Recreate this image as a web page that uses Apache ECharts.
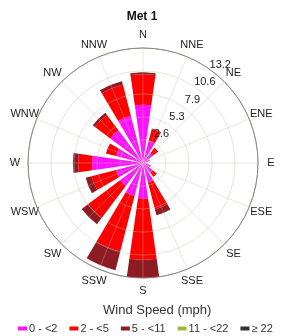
<!DOCTYPE html>
<html><head><meta charset="utf-8">
<script src="https://cdn.jsdelivr.net/npm/echarts@6/dist/echarts.min.js"></script>
<style>html,body{margin:0;padding:0;background:#fff}#c{width:284px;height:336px}</style>
</head><body><div id="c"></div>
<script>
var directions = ['N','NNE','NE','ENE','E','ESE','SE','SSE','S','SSW','SW','WSW','W','WNW','NW','NNW'];
var bins = ['0 - <2','2 - <5','5 - <11','11 - <22','\u2265 22'];
var speed0to2   = [6.7, 2.6, 1.4, 0.7, 0.5, 0.8, 1.4, 2.3, 4.1, 3.9, 3.3, 3.2, 5.85, 3.2, 4.7, 5.6];
var speed2to5   = [3.5, 1.4, 0.8, 0.1, 0.0, 0.1, 0.6, 3.2, 7.0, 6.6, 4.6, 2.9, 1.6, 1.2, 2.2, 3.7];
var speed5to11  = [0.2, 0.1, 0.0, 0.0, 0.0, 0.0, 0.0, 0.7, 2.1, 2.2, 0.9, 0.7, 0.6, 0.0, 0.3, 0.4];
var speed11to22 = [0,0,0,0,0,0,0,0,0,0,0,0,0,0,0,0];
var speed22up   = [0,0,0,0,0,0,0,0,0,0,0,0,0,0,0,0];
var radialTickValues = [2.64, 5.28, 7.92, 10.56, 13.2];
var radialTicks = ['2.6','5.3','7.9','10.6','13.2'];
var colors = ['#ff10ff','#ff0000','#8e1b24','#9fb83a','#333333'];
var seriesData = [speed0to2, speed2to5, speed5to11, speed11to22, speed22up];

var FONT = 'Liberation Sans, Arial, sans-serif';
var CX = 143, CY = 163, R = 115, LABEL_R = 128, FS = 11;
var ctx = document.createElement('canvas').getContext('2d');
ctx.font = FS + 'px ' + FONT;

// place direction labels so that their centres sit on a circle (like the reference)
var dirCats = directions.map(function(d, i){
  var th = i * 22.5 * Math.PI / 180, s = Math.sin(th), c = Math.cos(th);
  var w = ctx.measureText(d).width, h = FS;
  var ax = R * s, ay = -R * c, dx = LABEL_R * s, dy = -LABEL_R * c;
  var pad = [0,0,0,0];
  if (Math.abs(s) >= 0.3) {
    if (s > 0) pad[3] = dx - ax - w/2; else pad[1] = ax - dx - w/2;
  }
  if (Math.abs(c) >= 0.3) {
    if (c > 0) pad[2] = ay - dy - h/2; else pad[0] = dy - ay - h/2;
  }
  return {value:d, textStyle:{padding:pad}};
});

var chart = echarts.init(document.getElementById('c'), null, {renderer:'canvas'});
var option = {
  animation:false,
  color: colors,
  textStyle:{fontFamily:FONT},
  title:[
    {text:'Met 1', left:'center', top:6, textStyle:{fontSize:12, fontWeight:'bold', color:'#111'}},
    {text:'Wind Speed (mph)', left:98, top:299, textStyle:{fontSize:13, fontWeight:'normal', color:'#333'}}
  ],
  legend:{
    data: bins, left:13, top:318, itemWidth:9, itemHeight:4, itemGap:12, icon:'rect',
    textStyle:{fontSize:11, color:'#333', padding:[0,0,0,-3]}
  },
  polar:[
    {center:[CX,CY], radius:R},
    {center:[CX,CY], radius:R},
    {center:[CX,CY], radius:131.5}
  ],
  angleAxis:[
    {polarIndex:0, type:'category', data:dirCats, startAngle:90+11.25, clockwise:true,
     boundaryGap:true, axisLine:{show:true, lineStyle:{color:'#666', width:1}},
     axisTick:{show:false}, splitLine:{show:false},
     axisLabel:{fontSize:FS, color:'#222', margin:0}},
    {polarIndex:1, type:'value', min:0, max:360, interval:22.5, startAngle:90, z:5,
     axisLine:{show:false}, axisTick:{show:false}, axisLabel:{show:false},
     splitLine:{show:true, lineStyle:{color:'rgba(190,190,160,0.35)', width:1}}},
    {polarIndex:2, type:'value', min:0, max:360, startAngle:48,
     axisLine:{show:false}, axisTick:{show:false}, axisLabel:{show:false}, splitLine:{show:false}}
  ],
  radiusAxis:[
    {polarIndex:0, type:'value', min:0, max:13.2, interval:2.64, z:5,
     axisLine:{show:false}, axisTick:{show:false}, axisLabel:{show:false},
     splitLine:{show:true, lineStyle:{color:'rgba(190,190,160,0.4)', width:1}}},
    {polarIndex:1, type:'value', min:0, max:13.2, interval:2.64,
     axisLine:{show:false}, axisTick:{show:false}, axisLabel:{show:false}, splitLine:{show:false}},
    {polarIndex:2, type:'value', min:-1.829, max:13.2, z:6,
     axisLine:{show:false}, axisTick:{show:false}, splitLine:{show:false},
     axisLabel:{show:true, fontSize:FS, color:'#222', margin:0, customValues:radialTickValues,
       formatter:function(v){
         for (var i=0;i<radialTickValues.length;i++) if (Math.abs(v-radialTickValues[i])<1e-6) return radialTicks[i];
         return '';
       }}}
  ],
  series: bins.map(function(name,i){
    return {type:'bar', name:name, coordinateSystem:'polar', polarIndex:0, stack:'ws',
      data:seriesData[i], barCategoryGap:'28%', itemStyle:{color:colors[i]}};
  })
};
chart.setOption(option);
</script></body></html>
